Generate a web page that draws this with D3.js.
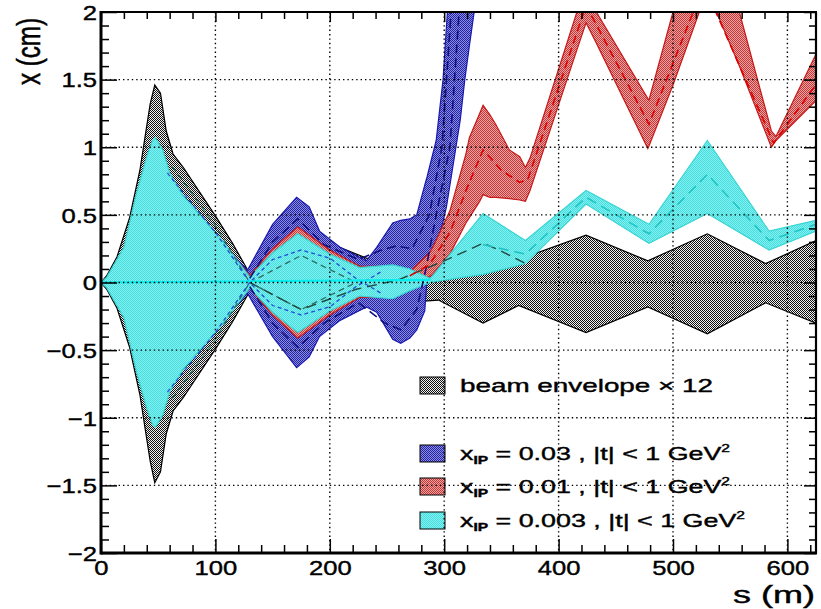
<!DOCTYPE html>
<html><head><meta charset="utf-8">
<script src="https://cdn.jsdelivr.net/npm/d3@7"></script>
<style>
html,body{margin:0;padding:0;background:#fff;}
svg{display:block;font-family:"Liberation Sans",Arial,sans-serif;}
</style></head>
<body>
<svg id="chart" width="821" height="609"></svg>
<script>
// ---------------- data ----------------
const xTickValues = [0,100,200,300,400,500,600];
const xTickLabels = ["0","100","200","300","400","500","600"];
const yTickValues = [-2,-1.5,-1,-0.5,0,0.5,1,1.5,2];
const yTickLabels = ["\u22122","\u22121.5","\u22121","\u22120.5","0","0.5","1","1.5","2"];

// beam envelope x 12 (grey)
const envS  = [0,5,14,25,34,38,43,47,52,57,63,72,101,115,131,150,170,200,232,260,295,334,365,424,478,530,581,625];
const envUp = [0,0.05,0.19,0.48,0.83,1.05,1.32,1.46,1.40,1.12,0.95,0.85,0.48,0.29,0.05,0.25,0.36,0.29,0.18,0.15,0.13,0.30,0.17,0.35,0.16,0.36,0.14,0.31];
const envLo = [0,-0.05,-0.19,-0.48,-0.83,-1.05,-1.32,-1.48,-1.40,-1.12,-0.95,-0.85,-0.48,-0.29,-0.05,-0.25,-0.36,-0.30,-0.18,-0.15,-0.13,-0.30,-0.17,-0.37,-0.18,-0.38,-0.15,-0.30];

// x_IP = 0.03 (blue)
const blueS  = [0,5,20,31,40,45,47.5,54,60,71,106,128,150,171,182,191,209,232,241,255,262,270,276,283,285,293,299,302,308,314,318,322,327,335];
const blueUp = [0,0.03,0.24,0.63,0.90,1.02,1.04,0.95,0.78,0.62,0.29,0.09,0.43,0.63,0.56,0.38,0.26,0.16,0.26,0.44,0.46,0.47,0.50,0.72,0.78,1.05,1.5,1.9,2.6,3,3,3,3,3];
const blueLo = [0,-0.03,-0.24,-0.63,-0.90,-1.02,-1.04,-0.95,-0.78,-0.62,-0.29,-0.08,-0.40,-0.63,-0.55,-0.40,-0.28,-0.18,-0.22,-0.42,-0.45,-0.41,-0.35,-0.21,0.03,0.26,0.45,0.56,0.88,1.2,1.5,1.75,2.05,2.6];

// x_IP = 0.01 (red)
const redS  = [0,5,20,31,40,45,47.5,54,60,71,106,130,150,172,200,226,255,270,287,290,305,319,322,331,334,340,345,357,366,371,375,416,424,433,478,479,500,523,530,538,558,586,590,628];
const redUp = [0,0.03,0.24,0.63,0.90,1.02,1.04,0.95,0.78,0.62,0.29,0.05,0.25,0.41,0.24,0.12,0.12,0.08,0.22,0.26,0.53,0.95,1.07,1.25,1.31,1.24,1.17,0.98,0.93,0.85,0.92,2.0,2.2,2.0,1.36,1.35,2.0,2.5,2.5,2.5,2.0,1.12,1.08,1.74];
const redLo = [0,-0.03,-0.24,-0.63,-0.90,-1.02,-1.04,-0.95,-0.78,-0.62,-0.29,-0.04,-0.24,-0.41,-0.24,-0.11,-0.10,0.04,0.04,0.06,0.21,0.44,0.48,0.60,0.65,0.63,0.63,0.62,0.61,0.60,0.68,1.72,1.92,1.77,0.99,1.01,1.46,2.0,2.2,2.0,1.6,1.0,1.05,1.37];

// x_IP = 0.003 (cyan)
const cyanS  = [0,5,20,31,40,45,47.5,54,60,71,106,130,150,172,200,226,255,270,288,310,334,371,424,479,530,584,625];
const cyanUp = [0,0.04,0.26,0.66,0.93,1.05,1.07,0.98,0.81,0.65,0.31,0.04,0.22,0.36,0.21,0.11,0.13,0.10,0.03,0.26,0.51,0.31,0.68,0.43,1.05,0.38,0.46];
const cyanLo = [0,-0.04,-0.26,-0.66,-0.93,-1.05,-1.07,-0.98,-0.81,-0.65,-0.31,-0.04,-0.22,-0.37,-0.21,-0.10,-0.12,-0.06,0.0,0.03,0.06,0.14,0.58,0.29,0.51,0.24,0.38];

// trajectories (dashed / solid lines)
const cyanAxisS = [0,288];           const cyanAxisV = [0,0.02];
const cyanDashS = [334,371,424,479,530,584,625];
const cyanDashV = [0.28,0.21,0.63,0.36,0.80,0.31,0.43];
const darkDashS = [130,175,223,260,300,334,348,371];
const darkDashV = [0.0,-0.2,-0.05,0.02,0.16,0.29,0.24,0.14];
const xLineAS = [58,100,130,150,175,200,223,245];
const xLineAV = [0.81,0.37,0.0,-0.17,-0.24,-0.18,-0.03,0.08];
const xLineBS = [58,100,130,150,175,200,223,245];
const xLineBV = [-0.81,-0.37,0.0,0.17,0.24,0.18,0.03,-0.08];
const xLineCS = [62,100,130,175,223];
const xLineCV = [0.86,0.42,0.0,-0.2,0.0];
const xLineDS = [62,100,130,175,223];
const xLineDV = [-0.86,-0.42,0.0,0.2,0.0];
const blueDashAS = [130,150,172,195,225,245,258,272,287,298,306,310];
const blueDashAV = [0.03,0.3,0.47,0.28,0.17,0.24,0.27,0.25,0.5,1.0,2.0,2.5];
const blueDashBS = [130,150,172,195,225,248,262,276,284,293,305,313,316];
const blueDashBV = [-0.03,-0.3,-0.48,-0.3,-0.15,-0.3,-0.35,-0.2,0.1,0.5,1.0,2.0,2.5];
const redDashS = [270,287,305,320,334,350,366,373,424,479,527,588,628];
const redDashV = [0.05,0.13,0.37,0.7,0.98,0.83,0.74,0.76,2.05,1.17,2.2,1.03,1.5];

const legendLabels = ["beam envelope \u00d7 12", "0.03", "0.01", "0.003"];

// ---------------- drawing ----------------
const svg = d3.select("#chart");
const L = 101, R = 816, T = 12, B = 553;
const x = d3.scaleLinear().domain([0,625]).range([L,R]);
const y = d3.scaleLinear().domain([-2,2]).range([B,T]);

const defs = svg.append("defs");
defs.append("clipPath").attr("id","plotClip").append("rect")
  .attr("x",L).attr("y",T).attr("width",R-L).attr("height",B-T);
function checker(id,c1,c2){
  const p = defs.append("pattern").attr("id",id).attr("width",2).attr("height",2)
    .attr("patternUnits","userSpaceOnUse");
  p.append("rect").attr("width",2).attr("height",2).attr("fill",c2);
  p.append("rect").attr("width",1).attr("height",1).attr("fill",c1);
  p.append("rect").attr("x",1).attr("y",1).attr("width",1).attr("height",1).attr("fill",c1);
}
checker("pGrey","#111111","#f0f0f0");
checker("pBlue","#2424a8","#8c8cdc");
checker("pRed","#c23a3a","#eca0a0");
checker("pCyan","#44dede","#86f0f0");

const plot = svg.append("g").attr("clip-path","url(#plotClip)");

function zipBand(S,U,Lo){ return S.map((s,i)=>({s, hi:U[i], lo:Lo[i]})); }
function zipLine(S,V){ return S.map((s,i)=>({s, v:V[i]})); }
const area = d3.area().x(d=>x(d.s)).y0(d=>y(d.lo)).y1(d=>y(d.hi));
const lineHi = d3.line().x(d=>x(d.s)).y(d=>y(d.hi));
const lineLo = d3.line().x(d=>x(d.s)).y(d=>y(d.lo));
const line = d3.line().x(d=>x(d.s)).y(d=>y(d.v));

function band(data, fill, stroke){
  plot.append("path").datum(data).attr("d",area).attr("fill",fill).attr("stroke","none");
  plot.append("path").datum(data).attr("d",lineHi).attr("fill","none").attr("stroke",stroke).attr("stroke-width",1.2);
  plot.append("path").datum(data).attr("d",lineLo).attr("fill","none").attr("stroke",stroke).attr("stroke-width",1.2);
}
band(zipBand(envS,envUp,envLo),"url(#pGrey)","#000");
band(zipBand(blueS,blueUp,blueLo),"url(#pBlue)","#1818b0");
band(zipBand(redS,redUp,redLo),"url(#pRed)","#c81818");
band(zipBand(cyanS,cyanUp,cyanLo),"url(#pCyan)","#3ad4d4");

function traj(S,V,color,dash,w){
  plot.append("path").datum(zipLine(S,V)).attr("d",line).attr("fill","none")
    .attr("stroke",color).attr("stroke-width",w||1.3).attr("stroke-dasharray",dash);
}
traj(xLineCS,xLineCV,"#2d6e62","6,4");
traj(xLineDS,xLineDV,"#2d6e62","6,4");
traj(xLineAS,xLineAV,"#2050d8","4,3");
traj(xLineBS,xLineBV,"#2050d8","4,3");
traj(blueDashAS,blueDashAV,"#101080","9,5",1.6);
traj(blueDashBS,blueDashBV,"#101080","9,5",1.6);
traj(darkDashS,darkDashV,"#1f4a40","10,6",1.4);
traj(cyanDashS,cyanDashV,"#20c4c4","10,6",1.6);
traj(redDashS,redDashV,"#e00000","8,5",1.6);
traj(cyanAxisS,cyanAxisV,"#00f0f0","none",2.2);

// ---------------- legend ----------------
const lg = svg.append("g");
const lgBoxes = [{y:377,f:"url(#pGrey)"},{y:445,f:"url(#pBlue)"},{y:478,f:"url(#pRed)"},{y:512,f:"url(#pCyan)"}];
lgBoxes.forEach(b=>{
  lg.append("rect").attr("x",420).attr("y",b.y).attr("width",25).attr("height",17)
    .attr("fill",b.f).attr("stroke","#000").attr("stroke-width",1);
});
lg.append("text").attr("x",460).attr("y",392).attr("font-size",19)
  .attr("stroke","#000").attr("stroke-width",0.4)
  .attr("textLength",253).attr("lengthAdjust","spacingAndGlyphs").text(legendLabels[0]);
const lgY = [460,493,527], lgW = [270,270,285];
[1,2,3].forEach((k,i)=>{
  const t = lg.append("text").attr("x",460).attr("y",lgY[i]).attr("font-size",19)
    .attr("stroke","#000").attr("stroke-width",0.4)
    .attr("textLength",lgW[i]).attr("lengthAdjust","spacingAndGlyphs");
  t.append("tspan").text("x");
  t.append("tspan").attr("font-size",11).attr("font-weight","bold").attr("dy",4).text("IP");
  t.append("tspan").attr("dy",-4).text(" = " + legendLabels[k] + " , |t| < 1 GeV");
  t.append("tspan").attr("font-size",11).attr("dy",-8).text("2");
});

// ---------------- grid (on top) ----------------
const grid = svg.append("g").attr("stroke","#000").attr("stroke-width",1.4).attr("stroke-dasharray","1.4,3");
xTickValues.filter(v=>v>0).forEach(v=>{
  grid.append("line").attr("x1",x(v)).attr("x2",x(v)).attr("y1",T).attr("y2",B);
});
yTickValues.filter(v=>v>-2 && v<2).forEach(v=>{
  grid.append("line").attr("x1",L).attr("x2",R).attr("y1",y(v)).attr("y2",y(v));
});

// ---------------- axes ----------------
const xMinor = d3.range(0,625,20).filter(v=>v%100!==0);
const yMinor = d3.range(-20,21).map(v=>v/10).filter(v=>Math.abs(v*2-Math.round(v*2))>1e-6);

function styleAxis(g){ g.select(".domain").remove(); g.selectAll("line").attr("stroke","#000").attr("stroke-width",1.5); }

svg.append("g").attr("transform",`translate(0,${B})`)
  .call(d3.axisBottom(x).tickValues(xMinor).tickSize(-8).tickFormat("")).call(styleAxis);
const xAx = svg.append("g").attr("transform",`translate(0,${B})`)
  .call(d3.axisBottom(x).tickValues(xTickValues).tickSize(-14).tickPadding(0)
        .tickFormat((d,i)=>xTickLabels[i])).call(styleAxis);
xAx.selectAll("text").attr("font-size",21).attr("fill","#000").attr("font-family","Liberation Sans, Arial")
  .attr("stroke","#000").attr("stroke-width",0.4)
  .attr("dy",null).attr("y",null)
  .attr("transform","translate(0,22) scale(1.22,1)");
svg.append("g").attr("transform",`translate(0,${T})`)
  .call(d3.axisTop(x).tickValues(xMinor).tickSize(-7).tickFormat("")).call(styleAxis);
svg.append("g").attr("transform",`translate(0,${T})`)
  .call(d3.axisTop(x).tickValues(xTickValues).tickSize(-10).tickFormat("")).call(styleAxis);

svg.append("g").attr("transform",`translate(${L},0)`)
  .call(d3.axisLeft(y).tickValues(yMinor).tickSize(-8).tickFormat("")).call(styleAxis);
const yAx = svg.append("g").attr("transform",`translate(${L},0)`)
  .call(d3.axisLeft(y).tickValues(yTickValues).tickSize(-16).tickPadding(0)
        .tickFormat((d,i)=>yTickLabels[i])).call(styleAxis);
yAx.selectAll("text").attr("font-size",21).attr("fill","#000").attr("font-family","Liberation Sans, Arial")
  .attr("stroke","#000").attr("stroke-width",0.4)
  .attr("x",null).attr("dy","0.35em")
  .attr("transform","translate(-4,0) scale(1.22,1)");
svg.append("g").attr("transform",`translate(${R},0)`)
  .call(d3.axisRight(y).tickValues(yMinor).tickSize(-7).tickFormat("")).call(styleAxis);
svg.append("g").attr("transform",`translate(${R},0)`)
  .call(d3.axisRight(y).tickValues(yTickValues).tickSize(-12).tickFormat("")).call(styleAxis);

// frame
svg.append("line").attr("x1",L).attr("x2",L).attr("y1",T-1).attr("y2",B+1.5).attr("stroke","#000").attr("stroke-width",3);
svg.append("line").attr("x1",L).attr("x2",R+1).attr("y1",B).attr("y2",B).attr("stroke","#000").attr("stroke-width",3);
svg.append("line").attr("x1",L).attr("x2",R+1).attr("y1",T).attr("y2",T).attr("stroke","#000").attr("stroke-width",2.2);
svg.append("line").attr("x1",R).attr("x2",R).attr("y1",T).attr("y2",B).attr("stroke","#000").attr("stroke-width",2.2);

// titles
svg.append("text").attr("x",733).attr("y",603).attr("font-size",23)
  .attr("stroke","#000").attr("stroke-width",0.4)
  .attr("textLength",82).attr("lengthAdjust","spacingAndGlyphs").text("s (m)");
svg.append("text").attr("transform","translate(40,85) rotate(-90) scale(1,1.35)")
  .attr("x",0).attr("y",0).attr("font-size",24)
  .attr("stroke","#000").attr("stroke-width",0.4)
  .attr("textLength",67).attr("lengthAdjust","spacingAndGlyphs").text("x (cm)");
</script>
</body></html>
